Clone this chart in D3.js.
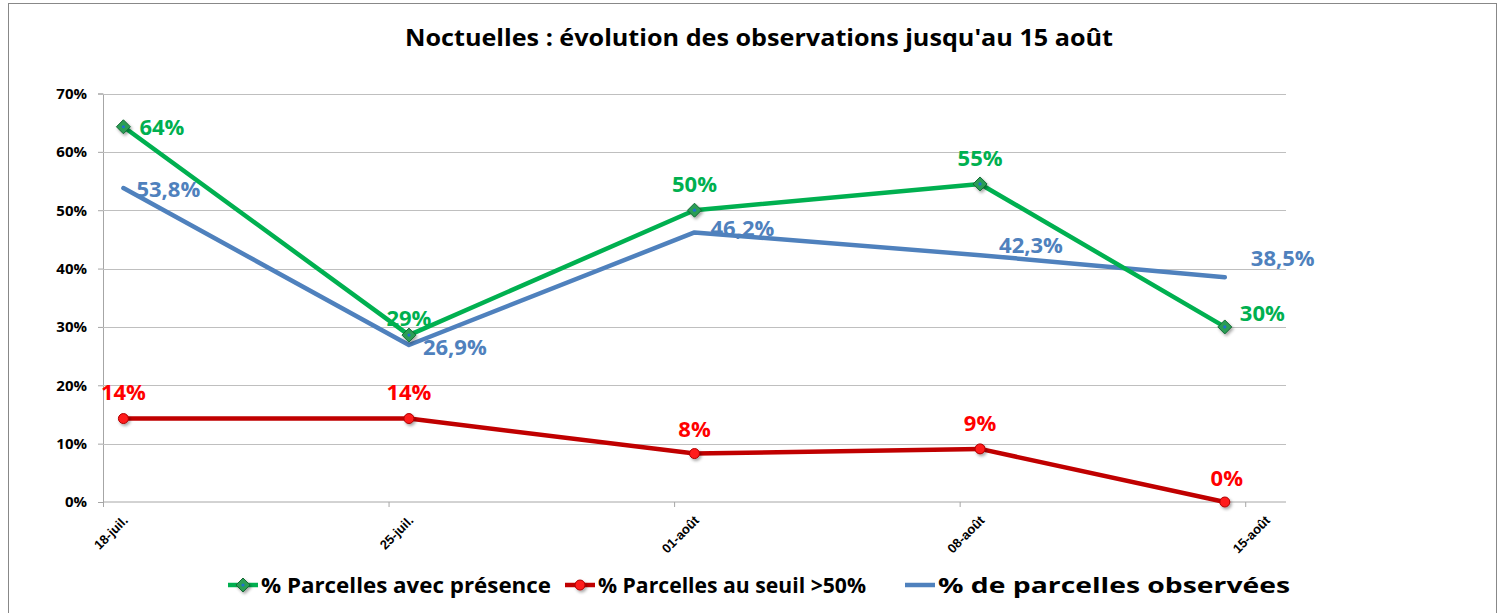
<!DOCTYPE html>
<html>
<head>
<meta charset="utf-8">
<script src="https://cdn.jsdelivr.net/npm/d3@7"></script>
<style>
  body { margin: 0; background: #fff; }
  svg { display: block; font-family: "Open Sans", "Noto Sans", sans-serif; }
</style>
</head>
<body>
<svg id="chart" width="1504" height="613"></svg>
<script>
// data
const dates = ['2011-07-18', '2011-07-25', '2011-08-01', '2011-08-08', '2011-08-14']
const tickDates = ['2011-07-18', '2011-07-25', '2011-08-01', '2011-08-08', '2011-08-15']
const tickLabels = ['18-juil.', '25-juil.', '01-août', '08-août', '15-août']
const yTicks = [0, 0.1, 0.2, 0.3, 0.4, 0.5, 0.6, 0.7]

const presence = [0.643, 0.286, 0.5, 0.545, 0.3]
const seuil = [0.143, 0.143, 0.083, 0.091, 0]
const observees = [0.538, 0.269, 0.462, 0.423, 0.385]

const seriesNames = ['% Parcelles avec présence', '% Parcelles au seuil >50%', '% de parcelles observées']

// label nudges from the point: [dx, dy, anchor]
const presenceNudge = [[16, 8, 'start'], [0, -9, 'middle'], [0, -18, 'middle'], [0, -18, 'middle'], [15, -6, 'start']]
const seuilNudge = [[0, -19, 'middle'], [0, -19, 'middle'], [0, -17, 'middle'], [0, -18, 'middle'], [2, -16, 'middle']]
const observeesNudge = [[13, 9, 'start'], [14, 10, 'start'], [16, 4, 'start'], [19, -2, 'start'], [26, -11, 'start']]

const green = '#00B050'
const red = '#C00000'
const redLabel = '#FF0000'
const blue = '#4F81BD'

const parse = d3.utcParse('%Y-%m-%d')
const svg = d3.select('#chart')

const plotLeft = 103, plotRight = 1286, plotTop = 93.5, plotBottom = 502

// date axis: each point sits in the middle of its day
const x = d3.scaleUtc()
  .domain([parse('2011-07-18'), parse('2011-08-16')])
  .range([plotLeft, plotRight])
const y = d3.scaleLinear()
  .domain([0, 0.7])
  .range([plotBottom, plotTop])

const mid = d => d3.utcHour.offset(parse(d), 12)

const defs = svg.append('defs')
const sh = defs.append('filter').attr('id', 'shadow')
  .attr('x', '-50%').attr('y', '-50%').attr('width', '200%').attr('height', '200%')
sh.append('feDropShadow').attr('dx', 1.5).attr('dy', 2).attr('stdDeviation', 1.5)
  .attr('flood-color', '#000').attr('flood-opacity', 0.35)

// outer frame
svg.append('rect')
  .attr('x', 8.5).attr('y', 3.5).attr('width', 1488).attr('height', 640)
  .attr('fill', 'none').attr('stroke', '#888').attr('stroke-width', 1)

// title
svg.append('text')
  .attr('x', 759).attr('y', 46)
  .attr('text-anchor', 'middle')
  .attr('font-size', 24).attr('font-weight', 'bold')
  .attr('textLength', 708).attr('lengthAdjust', 'spacingAndGlyphs')
  .text("Noctuelles : évolution des observations jusqu'au 15 août")

// y axis
const yAxis = svg.append('g')
  .attr('transform', `translate(${plotLeft},0)`)
  .call(d3.axisLeft(y).tickValues(yTicks).tickSize(5).tickFormat(d3.format('.0%')))
yAxis.select('.domain').attr('stroke', '#a6a6a6')
yAxis.selectAll('.tick line').attr('stroke', '#a6a6a6')
yAxis.selectAll('.tick text')
  .attr('x', -16)
  .attr('font-size', 15).attr('font-weight', 'bold')
  .attr('font-family', '"Open Sans", sans-serif').attr('fill', '#000')

// gridlines
svg.append('g')
  .selectAll('line')
  .data(yTicks.slice(1))
  .enter()
  .append('line')
  .attr('x1', plotLeft).attr('x2', plotRight)
  .attr('y1', d => Math.round(y(d)) + 0.5).attr('y2', d => Math.round(y(d)) + 0.5)
  .attr('stroke', '#bfbfbf')

// x axis
const xAxis = svg.append('g')
  .attr('transform', `translate(0,${plotBottom})`)
  .call(d3.axisBottom(x)
    .tickValues(tickDates.map(parse))
    .tickSize(5)
    .tickFormat((d, i) => tickLabels[i]))
xAxis.select('.domain').attr('stroke', '#a6a6a6').attr('d', `M${plotLeft},0H${plotRight}`)
xAxis.selectAll('.tick line').attr('stroke', '#a6a6a6')
xAxis.selectAll('.tick text')
  .attr('font-size', 13).attr('font-weight', 'bold').attr('fill', '#000')
  .attr('text-anchor', 'end')
  .attr('transform', 'translate(22,16) rotate(-45)')
  .attr('y', 0).attr('dy', '0.35em')

// series
const line = d3.line()
  .x(d => x(mid(d.date)))
  .y(d => y(d.value))

const toPoints = vals => vals.map((v, i) => ({date: dates[i], value: v}))

const series = [
  {name: seriesNames[0], vals: presence, color: green, marker: 'diamond', labelColor: green, nudge: presenceNudge, fmt: d3.format('.0%')},
  {name: seriesNames[1], vals: seuil, color: red, marker: 'circle', labelColor: redLabel, nudge: seuilNudge, fmt: d3.format('.0%')},
  {name: seriesNames[2], vals: observees, color: blue, marker: null, labelColor: blue, nudge: observeesNudge, fmt: v => d3.format('.1f')(v * 100).replace('.', ',') + '%'}
]

// blue first so green sits above it like the reference
const drawOrder = [2, 1, 0]
drawOrder.forEach(k => {
  const s = series[k]
  svg.append('path')
    .datum(toPoints(s.vals))
    .attr('d', line)
    .attr('fill', 'none')
    .attr('stroke', s.color)
    .attr('stroke-width', 4.5)
    .attr('stroke-linejoin', 'round')
    .attr('stroke-linecap', 'round')
})

const drawMarker = (g, kind, cx, cy) => {
  if (kind === 'diamond') {
    g.append('path')
      .attr('d', `M${cx},${cy - 7}L${cx + 7},${cy}L${cx},${cy + 7}L${cx - 7},${cy}Z`)
      .attr('fill', '#2a9d55').attr('stroke', '#166b36').attr('stroke-width', 1)
      .attr('filter', 'url(#shadow)')
    g.append('circle').attr('cx', cx).attr('cy', cy).attr('r', 1.6).attr('fill', '#1f6fd1')
  } else if (kind === 'circle') {
    g.append('circle').attr('cx', cx).attr('cy', cy).attr('r', 5)
      .attr('fill', '#ff1a1a').attr('stroke', '#b00000').attr('stroke-width', 1)
      .attr('filter', 'url(#shadow)')
  }
}

series.forEach(s => {
  const g = svg.append('g')
  toPoints(s.vals).forEach(p => {
    if (s.marker) drawMarker(g, s.marker, x(mid(p.date)), y(p.value))
  })
})

// data labels
series.forEach(s => {
  const g = svg.append('g')
    .attr('font-size', 22).attr('font-weight', 'bold').attr('fill', s.labelColor)
  toPoints(s.vals).forEach((p, i) => {
    const [dx, dy, anchor] = s.nudge[i]
    g.append('text')
      .attr('x', x(mid(p.date)) + dx)
      .attr('y', y(p.value) + dy)
      .attr('text-anchor', anchor)
      .text(s.fmt(p.value))
  })
})

// legend
const legendItems = [
  {name: seriesNames[0], color: green, marker: 'diamond', x: 228, textLen: 290},
  {name: seriesNames[1], color: red, marker: 'circle', x: 565, textLen: 268},
  {name: seriesNames[2], color: blue, marker: null, x: 905, textLen: 352}
]
const legend = svg.append('g')
legendItems.forEach(it => {
  const ly = 585
  legend.append('line')
    .attr('x1', it.x).attr('x2', it.x + 30)
    .attr('y1', ly).attr('y2', ly)
    .attr('stroke', it.color).attr('stroke-width', 4.5)
  drawMarker(legend, it.marker, it.x + 15, ly)
  legend.append('text')
    .attr('x', it.x + 33).attr('y', ly + 8)
    .attr('font-size', 21).attr('font-weight', 'bold').attr('fill', '#000')
    .attr('textLength', it.textLen).attr('lengthAdjust', 'spacingAndGlyphs')
    .text(it.name)
})
</script>
</body>
</html>
